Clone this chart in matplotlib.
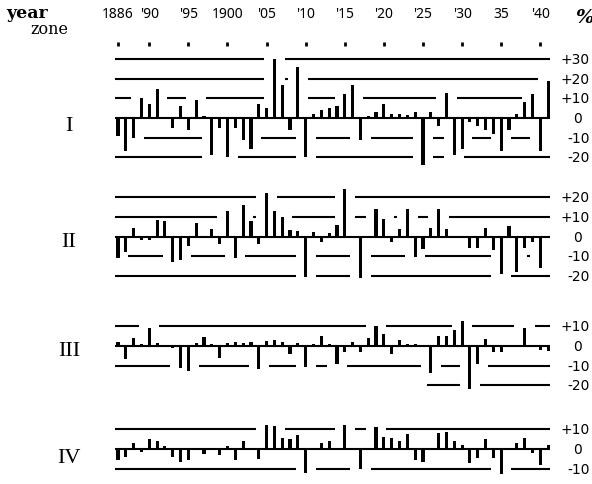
import matplotlib
matplotlib.use("Agg")
import matplotlib.pyplot as plt
import numpy as np

# ---------------- data ----------------
years = np.arange(1886, 1942)

zone_I = [-9, -17, -10, 10, 7, 15, 0, -5, 6, -6,
          9, 1, -19, -5, -20, -5, -11, -16, 7, 5,
          30, 17, -6, 26, -20, 2, 4, 5, 6, 12,
          17, -11, 1, 3, 7, 2, 2, 1.5, 3, -24,
          3, -4, 13, -19, -16, -2, -4, -6, -8, -17,
          -6, 2, 8, 12, -17, 19]
zone_II = [-11, -8, 4.5, -2, -2, 8.5, 8, -13, -12, -5,
           7, 0.5, 4, -4, 13, -11, 16, 8, -4, 22,
           13, 10, 3.5, 3, -20.5, 2.5, -3, 2, 6, 24,
           0, -21, 0, 14, 9, -3, 4, 14, -10.5, -6.5,
           4.5, 14, 4, 0.5, -1, -6, -6, 4.5, -7, -19,
           5.5, -18, -6, -3, -16, 0.5]
zone_III = [2, -6.5, 4, 1, 9, 1.5, 0.5, -1, -11, -12.5,
            1.5, 4.5, 1, -6, 1.5, 2, 1.5, 2, -11.5, 2.5,
            3, 2, -4.3, 1.5, -10.5, 1, 5, 1, -9, -3,
            2, -3, 4, 10, 6, -4, 3, 1, 1, 0.5,
            -14, 5, 5, 8, 13, -22, -9, 3.5, -3, -3,
            0.5, 0.5, 9, 0.5, -2, -2.5]
zone_IV = [-5.5, -4, 3, -1.3, 5, 4, 1.5, -4, -6.5, -5.5,
           0.5, -2.4, 0.5, -3, 1.5, -5.5, 4, 0.5, -5, 12,
           11.5, 5.5, 5, 7, -12, 0.5, 3, 4, 0.5, 12,
           0.5, -10, 0.5, 11, 6, 5.5, 4, 7.5, -5.5, -6.5,
           0.5, 8, 8.5, 4, 2, -7, -4.5, 5, -4.5, -12.5,
           0.5, 3, 5.5, -2, -8, 2]

zone_names = ["I", "II", "III", "IV"]
zone_values = [zone_I, zone_II, zone_III, zone_IV]
zone_levels = [[30, 20, 10, -10, -20],
               [20, 10, -10, -20],
               [10, -10, -20],
               [10, -10]]
tick_years = [1886, 1890, 1895, 1900, 1905, 1910, 1915, 1920, 1925, 1930, 1935, 1940]
tick_labels = ["1886", "'90", "'95", "1900", "'05", "'10", "'15", "'20",
               "'25", "'30", "35", "'40"]

# ---------------- layout (pixels) ----------------
W, H = 592, 485
X0, DX = 118.0, 7.82          # pixel of 1886, pixels per year
S = 1.96                      # pixels per 1 %
bases = [119, 237.5, 347, 450]
label_py = [127, 243, 352, 459]
line_start, line_end = 1885.6, 1941.25
partial_start = {(2, -20): 1925.5}


def yr(px):
    return 1886 + (px - X0) / DX


def fx(px):
    return px / W


def fy(py):
    return 1 - py / H


def segments(vals, level, start, end, hw=1.3):
    gaps = []
    for y, v in zip(years, vals):
        if (level > 0 and v >= level - 1) or (level < 0 and v <= level + 1):
            gaps.append((y - hw, y + hw))
    gaps.sort()
    segs = []
    cur = start
    for a, b in gaps:
        if b <= cur:
            continue
        if a > cur:
            segs.append((cur, min(a, end)))
        cur = max(cur, b)
        if cur >= end:
            break
    if cur < end:
        segs.append((cur, end))
    return [s for s in segs if s[1] - s[0] > 0.2]


fig = plt.figure(figsize=(W / 100, H / 100), dpi=100)
fig.patch.set_facecolor("white")

axes = []
for k, (vals, levels, base) in enumerate(zip(zone_values, zone_levels, bases)):
    ax = fig.add_axes([0, 0, 1, 1])
    ax.set_xlim(yr(0), yr(W))
    ax.set_ylim((base - H) / S, base / S)
    ax.axis("off")
    ax.patch.set_alpha(0)
    ax.bar(years, vals, width=0.4, color="black", linewidth=0)
    ax.hlines(0, line_start, line_end, color="black", lw=1.5)
    for L in levels:
        st = partial_start.get((k, L), line_start)
        for a, b in segments(vals, L, st, line_end):
            ax.hlines(L, a, b, color="black", lw=1.5)
        txt = ("+%d" % L) if L > 0 else ("-%d" % (-L))
        ax.text(yr(590), L, txt, ha="right", va="center", fontsize=10,
                family="DejaVu Sans", color="black")
    ax.text(yr(578), 0, "0", ha="center", va="center", fontsize=10,
            family="DejaVu Sans", color="black")
    fig.text(fx(69), fy(label_py[k]), zone_names[k], ha="center", va="center",
             fontsize=16, family="Liberation Serif", color="black")
    axes.append(ax)

# top year ticks
ax1 = axes[0]
ax1.vlines(tick_years, (bases[0] - 47) / S, (bases[0] - 43) / S, color="black", lw=2)
for ty, tl in zip(tick_years, tick_labels):
    fig.text(fx(X0 + (ty - 1886) * DX), fy(14), tl, ha="center", va="center",
             fontsize=10, family="Noto Sans", color="black")

fig.text(fx(6), fy(13), "year", ha="left", va="center", fontsize=12.5,
         family="DejaVu Serif", weight="bold", color="black")
fig.text(fx(30), fy(30), "zone", ha="left", va="center", fontsize=11.5,
         family="DejaVu Serif", color="black")
fig.text(fx(575), fy(18), "%", ha="left", va="center", fontsize=14,
         family="DejaVu Serif", style="italic", weight="bold", color="black")

fig.savefig("out.png", dpi=100, facecolor="white")
